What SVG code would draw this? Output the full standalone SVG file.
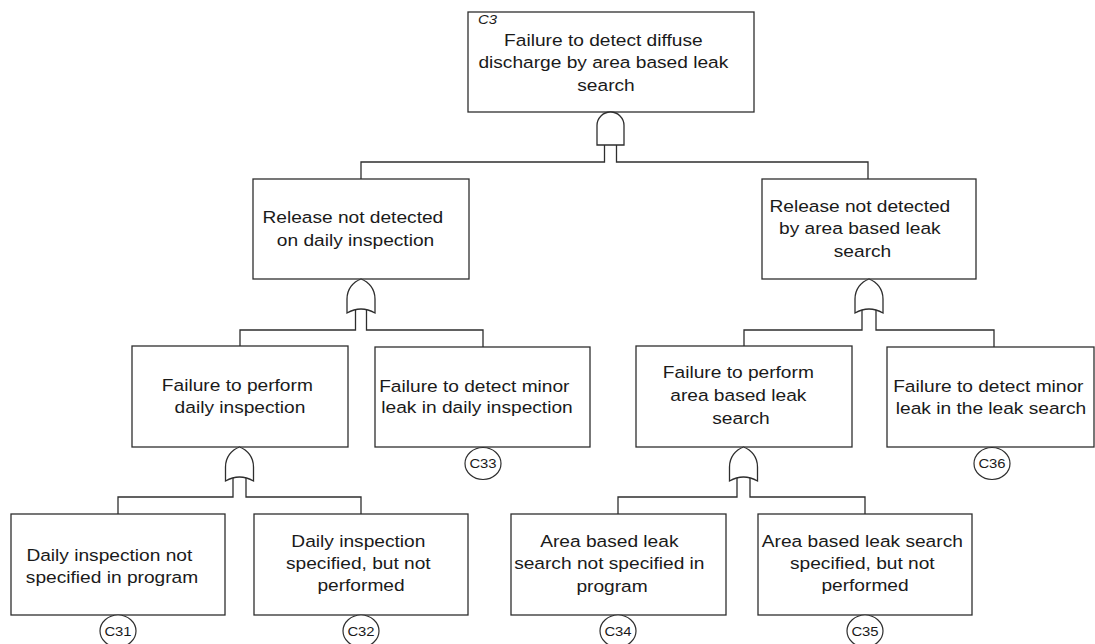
<svg xmlns="http://www.w3.org/2000/svg" width="1095" height="644" viewBox="0 0 1095 644">
  <style>
    .box { fill: #ffffff; stroke: #2e2e2e; stroke-width: 1.3; }
    .gate { fill: #ffffff; stroke: #2e2e2e; stroke-width: 1.3; }
    .wire { fill: none; stroke: #2e2e2e; stroke-width: 1.3; }
    .t { font-family: "Liberation Sans", Arial, sans-serif; font-size: 17.4px; fill: #1a1a1a; text-anchor: middle; }
    .ref { font-family: "Liberation Sans", Arial, sans-serif; font-size: 13.5px; fill: #1a1a1a; text-anchor: middle; }
    .tag { font-family: "Liberation Sans", Arial, sans-serif; font-size: 13.5px; font-style: italic; fill: #1a1a1a; }
    .xfer { fill: #ffffff; stroke: #2e2e2e; stroke-width: 1.2; }
  </style>
  <defs>
    <!-- OR gate, apex at origin -->
    <path id="or-gate" d="M0,0 C8,3 14,10 14,20 L14,34 Q0,26 -14,34 L-14,20 C-14,10 -8,3 0,0 Z"/>
    <!-- AND gate, top of dome at origin -->
    <path id="and-gate" d="M-13.5,33 L-13.5,13.5 A13.5,13.5 0 0 1 13.5,13.5 L13.5,33 Z"/>
  </defs>

  <rect width="1095" height="644" fill="#ffffff"/>

  <!-- connectors -->
  <g id="connectors">
    <path class="wire" d="M604.5,145 V162 H361 V179"/>
    <path class="wire" d="M616.5,145 V162 H868 V179"/>
    <path class="wire" d="M355.5,308 V330 H240 V346"/>
    <path class="wire" d="M366.5,308 V330 H483 V347"/>
    <path class="wire" d="M862,308 V330 H744 V346"/>
    <path class="wire" d="M876,308 V330 H994 V347"/>
    <path class="wire" d="M233,476 V497 H118 V514"/>
    <path class="wire" d="M246,476 V497 H361 V514"/>
    <path class="wire" d="M737,476 V497 H618 V514"/>
    <path class="wire" d="M750,476 V497 H865 V514"/>
  </g>

  <!-- top event -->
  <g id="c3">
    <rect class="box" x="468" y="12" width="286" height="100"/>
    <text class="tag" transform="translate(478 0) scale(1.1 1)" x="0" y="24">C3</text>
    <text class="t" transform="translate(606 0) scale(1.1 1)">
      <tspan x="0" y="46">Failure to detect diffuse</tspan>
      <tspan x="0" y="68">discharge by area based leak</tspan>
      <tspan x="0" y="91">search</tspan>
    </text>
    <use href="#and-gate" class="gate" x="610.5" y="112"/>
  </g>

  <g id="release-daily">
    <rect class="box" x="253" y="179" width="216" height="100"/>
    <text class="t" transform="translate(355.5 0) scale(1.1 1)">
      <tspan x="0" y="223">Release not detected</tspan>
      <tspan x="0" y="246">on daily inspection</tspan>
    </text>
    <use href="#or-gate" class="gate" x="361" y="279"/>
  </g>

  <g id="release-area">
    <rect class="box" x="762" y="179" width="214" height="100"/>
    <text class="t" transform="translate(862.5 0) scale(1.1 1)">
      <tspan x="0" y="212">Release not detected</tspan>
      <tspan x="0" y="234">by area based leak</tspan>
      <tspan x="0" y="257">search</tspan>
    </text>
    <use href="#or-gate" class="gate" x="869" y="279"/>
  </g>

  <g id="perform-daily">
    <rect class="box" x="132" y="346" width="216" height="101"/>
    <text class="t" transform="translate(240 0) scale(1.1 1)">
      <tspan x="0" y="391">Failure to perform</tspan>
      <tspan x="0" y="413">daily inspection</tspan>
    </text>
    <use href="#or-gate" class="gate" x="239.5" y="447"/>
  </g>

  <g id="c33">
    <rect class="box" x="375" y="347" width="215" height="100"/>
    <text class="t" transform="translate(477 0) scale(1.1 1)">
      <tspan x="0" y="392">Failure to detect minor</tspan>
      <tspan x="0" y="413">leak in daily inspection</tspan>
    </text>
    <ellipse class="xfer" cx="483" cy="463.5" rx="18" ry="16"/>
    <text class="ref" transform="translate(483 0) scale(1.1 1)" x="0" y="468.5">C33</text>
  </g>

  <g id="perform-area">
    <rect class="box" x="636" y="346" width="216" height="101"/>
    <text class="t" transform="translate(741 0) scale(1.1 1)">
      <tspan x="0" y="378">Failure to perform</tspan>
      <tspan x="0" y="401">area based leak</tspan>
      <tspan x="0" y="424">search</tspan>
    </text>
    <use href="#or-gate" class="gate" x="743.5" y="447"/>
  </g>

  <g id="c36">
    <rect class="box" x="887" y="347" width="207" height="100"/>
    <text class="t" transform="translate(991 0) scale(1.1 1)">
      <tspan x="0" y="392">Failure to detect minor</tspan>
      <tspan x="0" y="414">leak in the leak search</tspan>
    </text>
    <ellipse class="xfer" cx="992" cy="463.5" rx="18" ry="16"/>
    <text class="ref" transform="translate(992 0) scale(1.1 1)" x="0" y="468.5">C36</text>
  </g>

  <g id="c31">
    <rect class="box" x="11" y="514" width="214" height="101"/>
    <text class="t" transform="translate(112 0) scale(1.1 1)">
      <tspan x="0" y="561">Daily inspection not</tspan>
      <tspan x="0" y="583">specified in program</tspan>
    </text>
    <ellipse class="xfer" cx="118" cy="631" rx="18" ry="16"/>
    <text class="ref" transform="translate(118 0) scale(1.1 1)" x="0" y="636">C31</text>
  </g>

  <g id="c32">
    <rect class="box" x="254" y="514" width="214" height="101"/>
    <text class="t" transform="translate(361 0) scale(1.1 1)">
      <tspan x="0" y="547">Daily inspection</tspan>
      <tspan x="0" y="569">specified, but not</tspan>
      <tspan x="0" y="591">performed</tspan>
    </text>
    <ellipse class="xfer" cx="361" cy="631" rx="18" ry="16"/>
    <text class="ref" transform="translate(361 0) scale(1.1 1)" x="0" y="636">C32</text>
  </g>

  <g id="c34">
    <rect class="box" x="511" y="514" width="215" height="101"/>
    <text class="t" transform="translate(612 0) scale(1.1 1)">
      <tspan x="0" y="547">Area based leak</tspan>
      <tspan x="0" y="569">search not specified in</tspan>
      <tspan x="0" y="592">program</tspan>
    </text>
    <ellipse class="xfer" cx="618" cy="631" rx="18" ry="16"/>
    <text class="ref" transform="translate(618 0) scale(1.1 1)" x="0" y="636">C34</text>
  </g>

  <g id="c35">
    <rect class="box" x="758" y="514" width="214" height="101"/>
    <text class="t" transform="translate(865 0) scale(1.1 1)">
      <tspan x="0" y="547">Area based leak search</tspan>
      <tspan x="0" y="569">specified, but not</tspan>
      <tspan x="0" y="591">performed</tspan>
    </text>
    <ellipse class="xfer" cx="865" cy="631" rx="18" ry="16"/>
    <text class="ref" transform="translate(865 0) scale(1.1 1)" x="0" y="636">C35</text>
  </g>
</svg>
